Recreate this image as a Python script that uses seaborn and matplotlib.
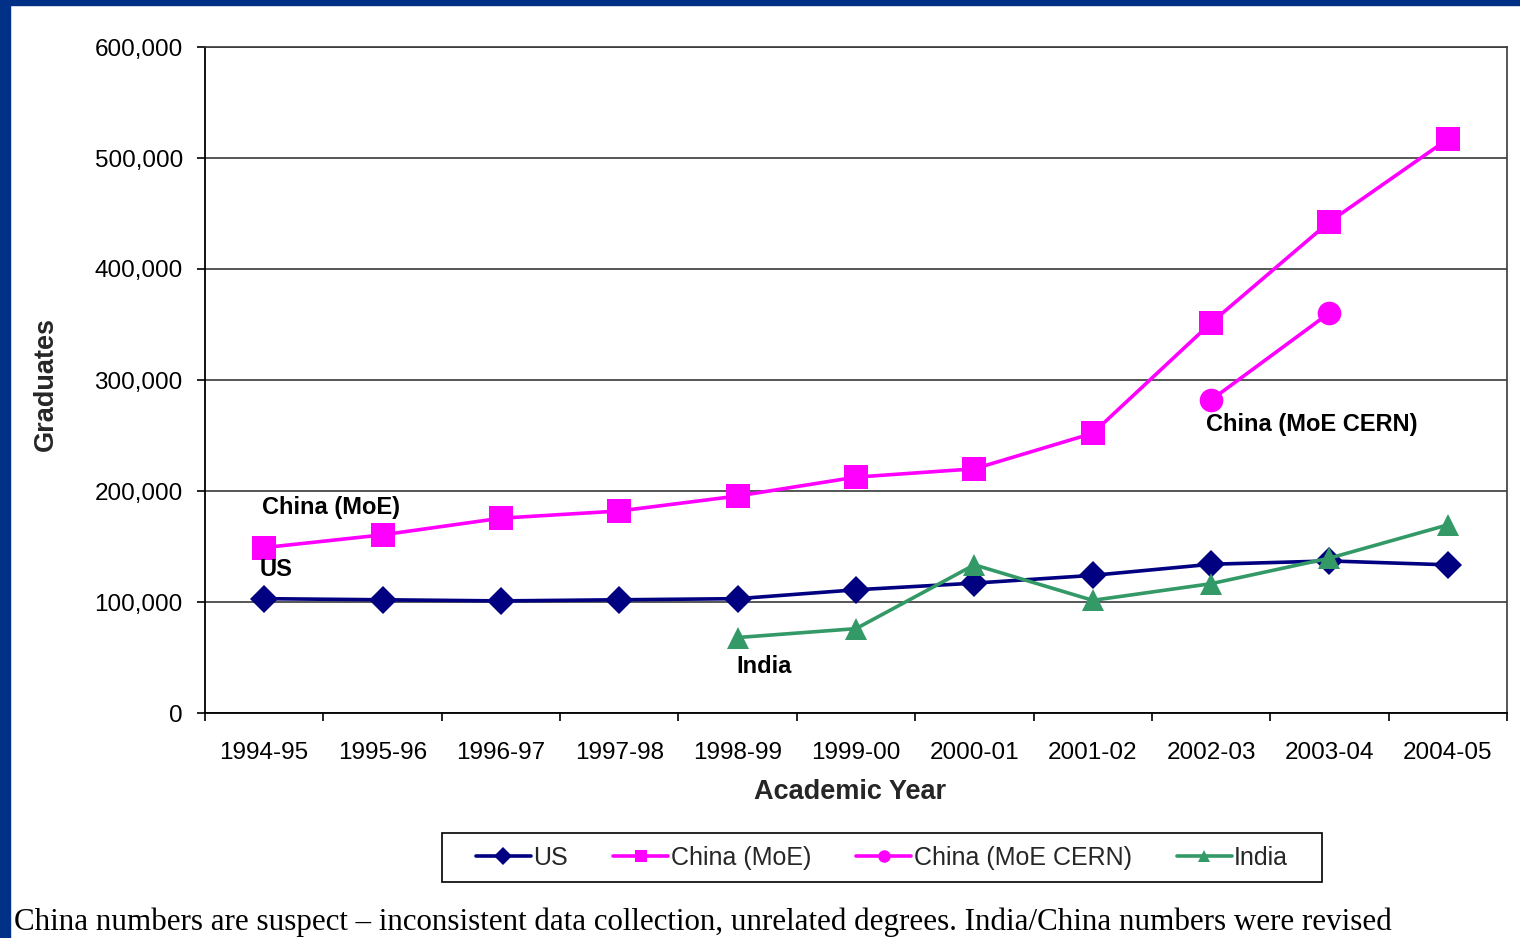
import matplotlib
matplotlib.use("Agg")
import matplotlib.pyplot as plt
from matplotlib.patches import Rectangle
from matplotlib.lines import Line2D
import numpy as np
import pandas as pd
import seaborn as sns

# Academic years on the x axis
years = ["1994-95", "1995-96", "1996-97", "1997-98", "1998-99", "1999-00",
         "2000-01", "2001-02", "2002-03", "2003-04", "2004-05"]

# Engineering graduates per year (NaN where no figure was reported)
us = [103000, 102000, 101000, 102000, 103000, 111000, 117000, 124000, 134000, 137000, 133500]
china_moe = [149000, 160500, 175500, 182000, 195500, 212500, 220000, 252000, 351500, 442500, 517000]
china_cern = [np.nan] * 8 + [282000, 360500, np.nan]
india = [np.nan] * 4 + [68000, 76000, 133500, 101500, 116500, 139500, 169500]

y_ticks = [0, 100000, 200000, 300000, 400000, 500000, 600000]

W, H = 1520, 938
sns.set_theme(style="white")
plt.rcParams["font.family"] = ["Liberation Sans", "DejaVu Sans"]

fig = plt.figure(figsize=(W / 100, H / 100), dpi=100)
fig.patch.set_facecolor("white")

# slide frame: dark blue bands along the top and left edges
navy_frame = "#013087"
fig.patches.append(Rectangle((0, 1 - 5 / H), 1, 5 / H, transform=fig.transFigure,
                             color=navy_frame, zorder=0))
fig.patches.append(Rectangle((0, 0), 10 / W, 1, transform=fig.transFigure,
                             color=navy_frame, zorder=0))

ax = fig.add_axes([205 / W, 1 - 713 / H, (1507 - 205) / W, (713 - 47) / H])

pos = np.arange(len(years)) + 0.5
df = pd.DataFrame({"pos": pos, "US": us, "China (MoE)": china_moe,
                   "China (MoE CERN)": china_cern, "India": india})

series = [
    ("US", "#000080", "D", 14),
    ("China (MoE)", "#FF00FF", "s", 17),
    ("China (MoE CERN)", "#FF00FF", "o", 17),
    ("India", "#339966", "^", 16),
]
legend_handles = []
for name, color, marker, ms in series:
    sub = df[["pos", name]].dropna()
    sns.lineplot(data=sub, x="pos", y=name, ax=ax, color=color, marker=marker,
                 markersize=ms, markeredgewidth=0, linewidth=2.6,
                 legend=False, zorder=3)
    legend_handles.append(Line2D([], [], color=color, marker=marker, markersize=9,
                                 markeredgewidth=0, linewidth=2.6, label=name))

ax.set_xlim(0, len(years))
ax.set_ylim(0, 600000)
ax.set_yticks(y_ticks)
ax.set_yticklabels([f"{v:,}" for v in y_ticks])
ax.yaxis.grid(True, color="#3a3a3a", linewidth=1.2)
ax.xaxis.grid(False)

# major ticks mark category boundaries, minor ticks carry the year labels
ax.set_xticks(np.arange(len(years) + 1))
ax.set_xticklabels([])
ax.set_xticks(pos, minor=True)
ax.set_xticklabels(years, minor=True)
ax.tick_params(axis="x", which="major", direction="out", length=6, width=1.2,
               color="black", bottom=True)
ax.tick_params(axis="x", which="minor", length=0, pad=21, labelsize=17.5,
               labelcolor="black")
ax.tick_params(axis="y", direction="out", length=6, width=1.2, color="black",
               left=True, pad=10, labelsize=17.5, labelcolor="black")

ax.set_xlabel("")
ax.set_ylabel("")
for side in ["left", "bottom"]:
    ax.spines[side].set_color("black")
    ax.spines[side].set_linewidth(1.3)
for side in ["right", "top"]:
    ax.spines[side].set_color("#3a3a3a")
    ax.spines[side].set_linewidth(1.2)

# series labels inside the plot
lab_kw = dict(fontsize=17, fontweight="bold", color="black", va="center", ha="left")
ax.text(0.48, 185500, "China (MoE)", **lab_kw)
ax.text(0.465, 129500, "US", **lab_kw)
ax.text(4.49, 42300, "India", **lab_kw)
ax.text(8.46, 259500, "China (MoE CERN)", **lab_kw)

fig.text(850 / W, 1 - 792 / H, "Academic Year", fontsize=19.5, fontweight="bold",
         ha="center", va="center")
fig.text(46 / W, 1 - 384 / H, "Graduates", fontsize=19.5, fontweight="bold",
         ha="center", va="center", rotation=90)

# legend box drawn as its own frame so it can be wider than the entries
fig.patches.append(Rectangle((442 / W, 1 - 882 / H), (1322 - 442) / W, 49 / H,
                             transform=fig.transFigure, facecolor="white",
                             edgecolor="black", linewidth=1.2, zorder=1))
leg = fig.legend(handles=legend_handles, loc="center",
                 bbox_to_anchor=(882 / W, 1 - 857.5 / H),
                 ncol=4, frameon=False, fontsize=18, handlelength=2.2,
                 handletextpad=0.1, columnspacing=1.8, borderpad=0.45)
leg.set_zorder(2)

fig.text(14 / W, 1 - 930 / H,
         "China numbers are suspect \u2013 inconsistent data collection, unrelated degrees. "
         "India/China numbers were revised",
         fontsize=22.3, family=["Liberation Serif", "DejaVu Serif"], ha="left",
         va="baseline", color="black")

fig.savefig("out.png", dpi=100)
